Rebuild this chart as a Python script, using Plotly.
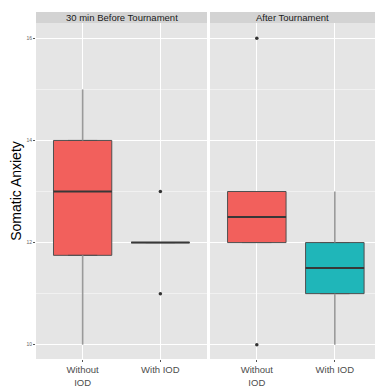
import plotly.graph_objects as go

# ---- data ----
categories = ["Without<br>IOD", "With IOD"]
panels = ["30 min Before Tournament", "After Tournament"]

# per panel, per category: [lower whisker, q1, median, q3, upper whisker]
before_low = [10, 12]
before_q1 = [11.75, 12]
before_med = [13, 12]
before_q3 = [14, 12]
before_high = [15, 12]
before_outliers = [[], [13, 11]]

after_low = [12, 10]
after_q1 = [12, 11]
after_med = [12.5, 11.5]
after_q3 = [13, 12]
after_high = [13, 13]
after_outliers = [[16, 10], []]

fill_colors = ["#F2605C", "#1FB6B9"]
y_ticks = [10, 12, 14, 16]

fig = go.Figure()

def add_panel(xa, ya, low, q1, med, q3, high, outliers):
    for i, cat in enumerate(categories):
        # whiskers
        fig.add_trace(go.Scatter(
            x=[cat, cat, None, cat, cat], y=[low[i], q1[i], None, q3[i], high[i]],
            mode="lines", line=dict(color="#9a9a9a", width=1.6),
            xaxis=xa, yaxis=ya, showlegend=False, hoverinfo="skip"))
        fig.add_trace(go.Box(
            x=[cat], q1=[q1[i]], median=[med[i]], q3=[q3[i]],
            lowerfence=[q1[i]], upperfence=[q3[i]],
            fillcolor=fill_colors[i], line=dict(color="#505050", width=1),
            width=0.75, boxpoints=False, xaxis=xa, yaxis=ya, showlegend=False))
        # median emphasised
        fig.add_trace(go.Box(
            x=[cat], q1=[med[i]], median=[med[i]], q3=[med[i]],
            lowerfence=[med[i]], upperfence=[med[i]],
            fillcolor="rgba(0,0,0,0)", line=dict(color="#383838", width=2),
            width=0.75, boxpoints=False, xaxis=xa, yaxis=ya, showlegend=False))
        if outliers[i]:
            fig.add_trace(go.Scatter(
                x=[cat] * len(outliers[i]), y=outliers[i], mode="markers",
                marker=dict(color="#333333", size=3.5),
                xaxis=xa, yaxis=ya, showlegend=False))

add_panel("x", "y", before_low, before_q1, before_med, before_q3, before_high, before_outliers)
add_panel("x2", "y2", after_low, after_q1, after_med, after_q3, after_high, after_outliers)

W, H = 375, 387
ml, mt, mb, mr = 36, 12, 28, 0
pw = W - ml - mr
ph = H - mt - mb
left_end = (207 - ml) / pw
right_start = (210 - ml) / pw
panel_top = (359 - 23) / ph

xcommon = dict(type="category", categoryorder="array", categoryarray=categories,
               showgrid=True, gridcolor="white", gridwidth=1, zeroline=False,
               ticks="outside", ticklen=2, tickcolor="#555555",
               tickfont=dict(family="Liberation Sans, Arial", size=9.5, color="#4d4d4d"),
               automargin=False, fixedrange=True)
ycommon = dict(range=[9.72, 16.3], tickvals=y_ticks, showgrid=True, gridcolor="white",
               gridwidth=1, zeroline=False, domain=[0, panel_top], automargin=False,
               minor=dict(dtick=1, tick0=1, showgrid=True, gridcolor="#F1F1F1", gridwidth=0.5),
               fixedrange=True)

fig.update_layout(
    width=W, height=H,
    margin=dict(l=ml, r=mr, t=mt, b=mb),
    paper_bgcolor="white", plot_bgcolor="#E5E5E5",
    font=dict(family="Liberation Sans, Arial"),
    xaxis=dict(domain=[0, left_end], range=[-0.6, 1.6], **xcommon),
    xaxis2=dict(domain=[right_start, 1], range=[-0.6, 1.515], anchor="y2", **xcommon),
    yaxis=dict(ticks="outside", ticklen=2, tickcolor="#555555",
               tickfont=dict(size=5, color="#666666"),
               title=dict(text="Somatic Anxiety", font=dict(size=14, color="black"), standoff=1),
               **ycommon),
    yaxis2=dict(anchor="x2", showticklabels=False, ticks="", matches="y", **ycommon),
    boxgap=0,
)

# strips
for dom, label in [((0, left_end), panels[0]), ((right_start, 1), panels[1])]:
    fig.add_shape(type="rect", xref="paper", yref="paper", x0=dom[0], x1=dom[1],
                  y0=panel_top, y1=1, fillcolor="#D3D3D3", line=dict(width=0), layer="below")
    fig.add_annotation(xref="paper", yref="paper", x=(dom[0] + dom[1]) / 2, y=(panel_top + 1) / 2,
                       text=label, showarrow=False, xanchor="center", yanchor="middle",
                       font=dict(size=9.5, color="#1a1a1a"))

fig.write_html("out.html", config={"displayModeBar": False},
               post_script="document.body.style.margin='0';document.body.style.overflow='hidden';")
